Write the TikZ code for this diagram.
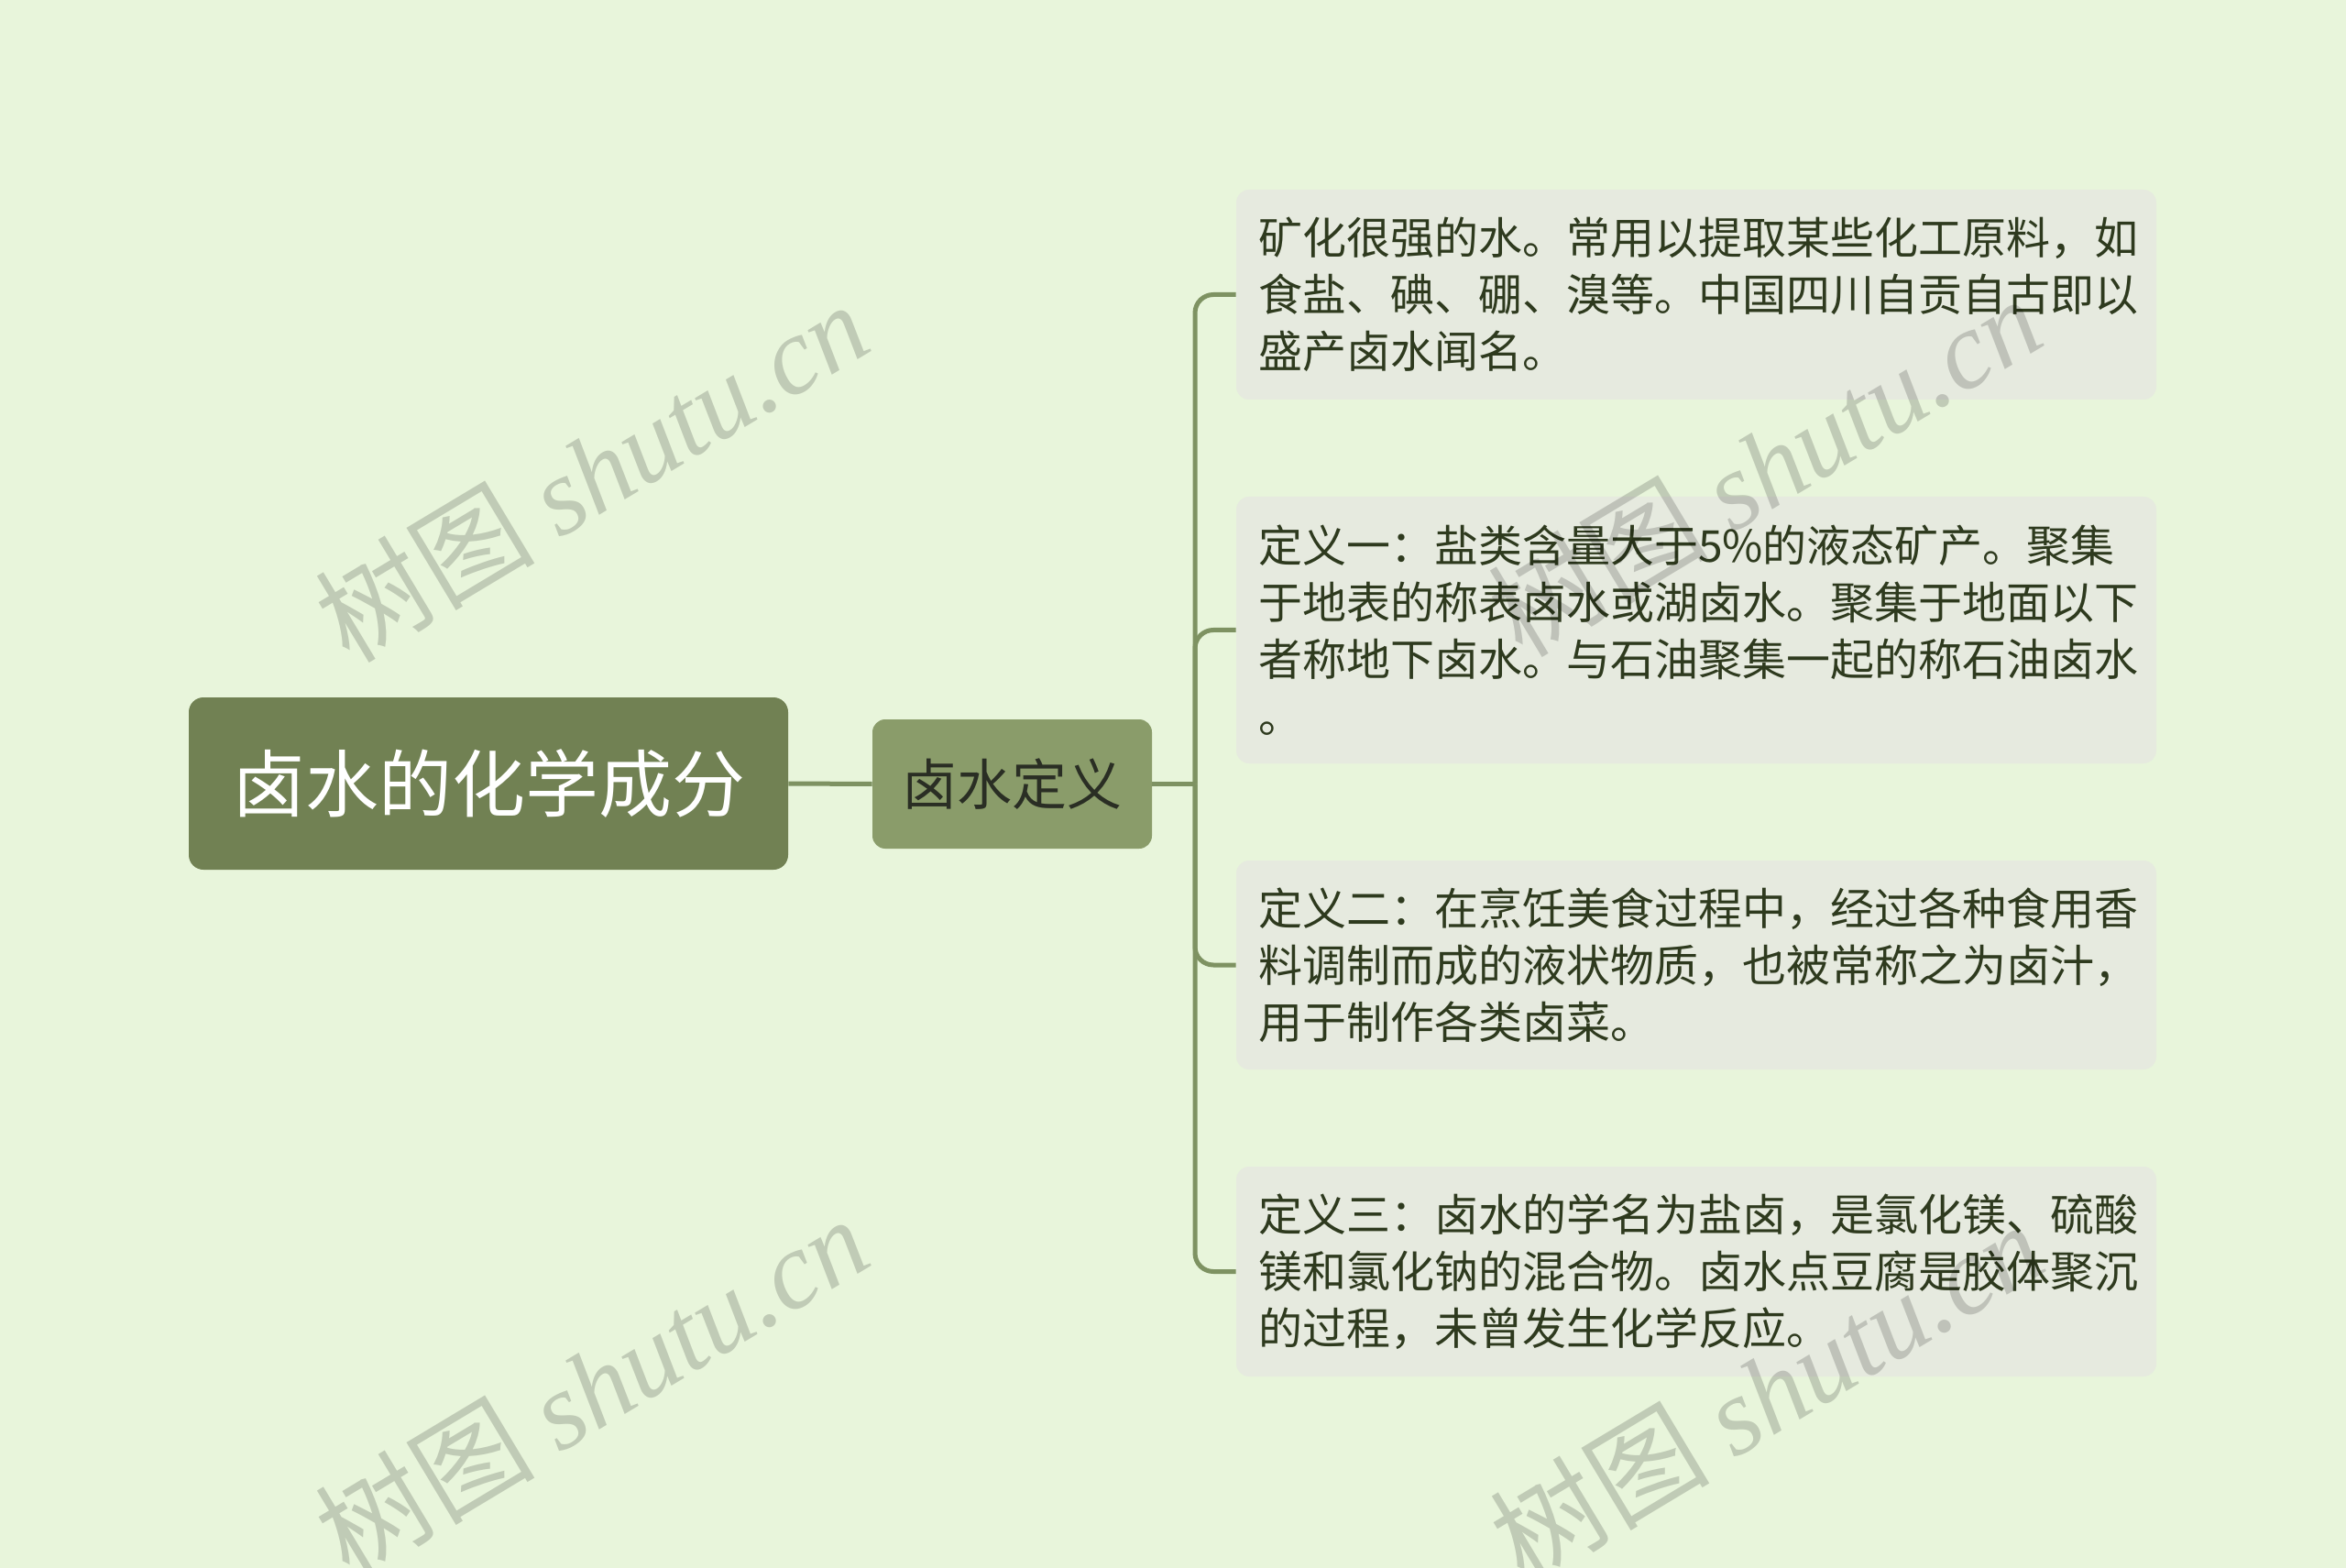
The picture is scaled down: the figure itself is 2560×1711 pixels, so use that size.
\documentclass[tikz,border=0pt]{standalone}
\usepackage{fontspec}
\setmainfont{Noto Sans CJK SC}
\newfontfamily\wmser{Liberation Serif}
\definecolor{bgc}{HTML}{E8F5DB}
\definecolor{rootc}{HTML}{718153}
\definecolor{midc}{HTML}{8A9C6A}
\definecolor{connc}{HTML}{7E9262}
\definecolor{leafc}{HTML}{E6EADF}
\definecolor{leaftext}{HTML}{2E3A1E}
\definecolor{midtext}{HTML}{2A2E24}
\tikzset{
  rootbox/.style={fill=rootc, rounded corners=8pt, minimum width=327pt, minimum height=94pt,
    inner sep=0pt, text=white, font=\fontsize{40}{48}\selectfont},
  midbox/.style={fill=midc, rounded corners=7pt, minimum width=152.5pt, minimum height=70.5pt,
    inner sep=0pt, text=midtext, font=\fontsize{30}{36}\selectfont},
  leafbox/.style={fill=leafc, rounded corners=7pt, text width=478pt, inner xsep=12pt,
    inner ysep=0pt, align=left, text=leaftext, font=\fontsize{24}{31}\selectfont},
  conn/.style={draw=connc, line width=2.5pt, rounded corners=10pt},
  wm/.style={text=black, opacity=0.17, rotate=31, inner sep=0pt, font=\fontsize{60}{70}\selectfont}
}
\begin{document}
\begin{tikzpicture}[x=0.5pt,y=-0.5pt]
\fill[bgc] (0,0) rectangle (2560,1711);
\useasboundingbox (0,0) rectangle (2560,1711);

\node[rootbox] (root) at (533,855) {卤水的化学成分};
\node[midbox] (mid) at (1104.5,855.5) {卤水定义};

\node[leafbox, minimum height=114.5pt] (l1) at (1851,321.5)
  {矿化很强的水。常用以提取某些化工原料，如\\食盐、碘、硼、溴等。中国四川自贡自古即以\\盛产卤水闻名。};
\node[leafbox, minimum height=145.5pt] (l2) at (1851,687.5)
  {定义一：盐类含量大于5\%的液态矿产。聚集\\于地表的称表卤水或湖卤水。聚集于地面以下\\者称地下卤水。与石油聚集一起的称石油卤水\\。};
\node[leafbox, minimum height=114pt] (l3) at (1851,1053)
  {定义二：在烹饪美食过程中，经过各种食用香\\料调制而成的液状物质，也被常称之为卤汁，\\用于制作各类卤菜。};
\node[leafbox, minimum height=114.5pt] (l4) at (1851,1387.5)
  {定义三：卤水的学名为盐卤，是氯化镁、硫酸\\镁和氯化钠的混合物。卤水点豆腐是胶体聚沉\\的过程，未曾发生化学反应。};

\coordinate (J) at (1304,855.5);
\draw[conn] (root.east) -- (mid.west);
\draw[conn] (mid.east) -- (J);
\foreach \l in {l1,l2,l3,l4} {
  \draw[conn] (J) |- (\l.west);
}

\node[wm] (w1) at (645,514) {树图 {\wmser\itshape shutu.cn}};
\node[wm] (w2) at (1925,508) {树图 {\wmser\itshape shutu.cn}};
\node[wm] (w3) at (645,1512) {树图 {\wmser\itshape shutu.cn}};
\node[wm] (w4) at (1927,1518) {树图 {\wmser\itshape shutu.cn}};
\end{tikzpicture}
\end{document}
